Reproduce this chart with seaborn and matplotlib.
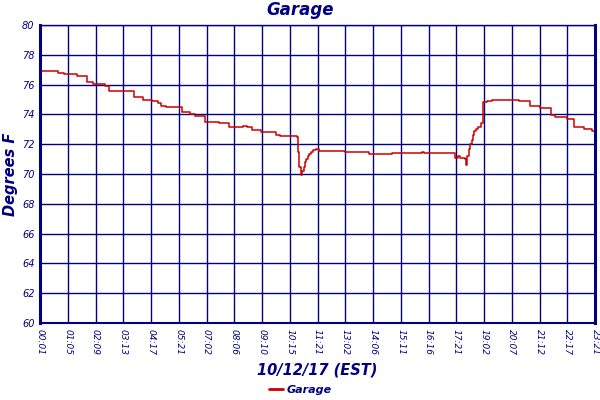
import numpy as np
import pandas as pd
import matplotlib
matplotlib.use("Agg")
import matplotlib.pyplot as plt
import seaborn as sns

# sample index of each reading (20 samples between x ticks) and temperature
sample_idx = [
    0, 13, 17, 27, 34, 38, 47, 50, 68, 74, 81, 85, 87, 91,
    102, 108, 112, 119, 129, 136, 146, 149, 153, 159, 170, 173, 185,
    186, 187, 188, 189, 190, 191, 192, 193, 194, 195, 197, 199, 201,
    220, 237, 254, 275, 277, 299, 301, 303, 306, 307, 308, 309, 310,
    311, 312, 313, 314, 316, 318, 319, 322, 326, 340, 345, 353, 360,
    368, 371, 380, 385, 392, 398, 400,
]
temps = [
    76.9, 76.8, 76.7, 76.55, 76.2, 76.05, 75.9, 75.6, 75.2, 75.0, 74.9, 74.75, 74.55, 74.5,
    74.15, 74.05, 73.9, 73.5, 73.4, 73.15, 73.25, 73.15, 72.95, 72.8, 72.65, 72.55, 72.5,
    71.5, 70.5, 69.95, 70.2, 70.5, 70.8, 71.0, 71.2, 71.35, 71.5, 71.6, 71.65, 71.57,
    71.45, 71.35, 71.4, 71.5, 71.4, 71.1, 71.2, 71.1, 71.0, 70.6, 71.2, 71.7, 72.0,
    72.3, 72.6, 72.9, 73.0, 73.15, 73.4, 74.85, 74.9, 75.0, 74.95, 74.9, 74.55, 74.45,
    73.95, 73.8, 73.7, 73.15, 73.0, 72.9, 72.9,
]

tick_labels = [
    "00:01", "01:05", "02:09", "03:13", "04:17", "05:21", "07:02", "08:06",
    "09:10", "10:15", "11:21", "13:02", "14:06", "15:11", "16:16", "17:21",
    "19:02", "20:07", "21:12", "22:17", "23:21",
]
y_ticks = [60, 62, 64, 66, 68, 70, 72, 74, 76, 78, 80]

navy = "#000080"
red = "#cc0000"

df = pd.DataFrame({"sample": sample_idx, "temp": temps, "sensor": "Garage"})

sns.set_style("white")
plt.rcParams["font.family"] = ["DejaVu Sans"]

fig = plt.figure(figsize=(6, 4), dpi=100)
# plot box roughly x 40..595 px, y 25..323 px
ax = fig.add_axes([0.0667, 0.1925, 0.925, 0.745])

sns.lineplot(data=df, x="sample", y="temp", hue="sensor", palette=[red],
             drawstyle="steps-post", linewidth=1.1, ax=ax, legend=False)

ax.set_xlim(0, 400)
ax.set_ylim(60, 80)
ax.set_xticks(np.arange(0, 401, 20))
ax.set_xticklabels(tick_labels, rotation=270, fontsize=6.5, color=navy,
                   style="italic")
ax.set_yticks(y_ticks)
ax.set_yticklabels([str(v) for v in y_ticks], fontsize=7, color=navy,
                   style="italic")
ax.tick_params(length=0, pad=4)
ax.grid(True, color=navy, linewidth=1.0)
ax.set_axisbelow(True)
for side, lw in [("left", 2.2), ("right", 2.2), ("bottom", 1.5), ("top", 1.0)]:
    ax.spines[side].set_visible(True)
    ax.spines[side].set_color(navy)
    ax.spines[side].set_linewidth(lw)

ax.set_xlabel("10/12/17 (EST)", fontsize=10.5, color=navy, style="italic",
              fontweight="bold", labelpad=6)
ax.set_ylabel("")
fig.text(0.018, 0.565, "Degrees F", ha="center", va="center", rotation=90,
         fontsize=10.5, color=navy, style="italic", fontweight="bold")
fig.text(0.5, 0.975, "Garage", ha="center", va="center", fontsize=12,
         color=navy, style="italic", fontweight="bold")

handle = plt.Line2D([], [], color=red, linewidth=2)
leg = fig.legend([handle], ["Garage"], loc="center", bbox_to_anchor=(0.5, 0.025),
                 frameon=False, handlelength=1.3, handletextpad=0.3,
                 prop={"size": 8, "style": "italic", "weight": "bold"})
for t in leg.get_texts():
    t.set_color(navy)

fig.savefig("out.png", dpi=100)
